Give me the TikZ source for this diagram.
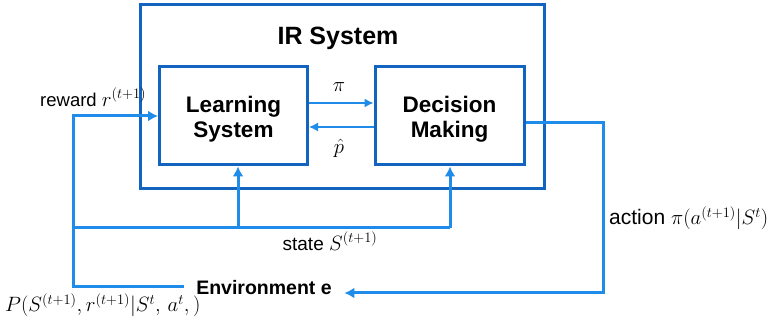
\documentclass[tikz,border=0pt]{standalone}
\usepackage{fontspec}
\setmainfont{Liberation Sans}
\usetikzlibrary{arrows.meta}
\definecolor{boxblue}{RGB}{18,100,190}
\definecolor{lineblue}{RGB}{30,140,232}
\newcommand{\fsz}[1]{\fontsize{#1}{#1}\selectfont}
\tikzset{
  sysbox/.style={draw=boxblue, line width=3pt, rectangle, inner sep=0pt},
  conn/.style={draw=lineblue, line width=3pt},
  connarrow/.style={conn, -{Latex[length=10pt,width=11pt]}},
  thinarrow/.style={draw=lineblue, line width=1.4pt, -{Latex[length=9pt,width=9pt]}},
  lbl/.style={inner sep=0pt},
  title/.style={font=\fontsize{22.5}{25}\bfseries\selectfont, align=center, inner sep=0pt}
}
\begin{document}
\begin{tikzpicture}[x=1pt,y=-1pt]
\useasboundingbox (0,0) rectangle (771,320);
% IR system frame and its title
\node[sysbox, minimum width=404pt, minimum height=184pt] (ir) at (342,97) {};
\node[font=\fontsize{25}{28}\bfseries\selectfont] (irt) at (338,38) {IR System};
% the two inner modules
\node[sysbox, minimum width=148pt, minimum height=98pt] (ls) at (233.5,116) {};
\node[sysbox, minimum width=149pt, minimum height=98pt] (dm) at (449.5,116) {};
\node[title] (lst) at ([yshift=-3pt]ls.center) {Learning\\System};
\node[title] (dmt) at ([yshift=-3pt]dm.center) {Decision\\Making};
% environment
\node[font=\fontsize{19.5}{22}\bfseries\selectfont, inner xsep=12.5pt, inner ysep=4pt] (env) at (264,288) {Environment e};
% routing coordinates
\coordinate (lx) at (73,0);
\coordinate (sy) at (0,228);
\coordinate (ax) at (603,0);
\coordinate (envin) at ([yshift=-5pt]env.east);
% policy and estimate arrows between the modules
\draw[thinarrow] ([yshift=13pt]ls.east) -- ([yshift=13pt]dm.west);
\draw[thinarrow] ([yshift=-11pt]dm.west) -- ([yshift=-11pt]ls.east);
\node[lbl, font=\fsz{21}] (pil) at (339,87) {$\pi$};
\node[lbl, font=\fsz{21}] (phl) at (339,148) {$\hat{p}$};
% reward loop from the environment into the learning system
\draw[connarrow] ([yshift=1pt]env.west) -| (lx |- ls.west) -- (ls.west);
% state branch feeding both modules
\draw[conn] (lx |- sy) -- ([xshift=0.5pt]dm.south |- sy);
\draw[connarrow] ([xshift=4.5pt]ls.south |- sy) -- ([xshift=4.5pt]ls.south);
\draw[connarrow] ([xshift=0.5pt]dm.south |- sy) -- ([xshift=0.5pt]dm.south);
% action back to the environment
\draw[connarrow] ([yshift=-7pt]dm.east) -| (ax |- envin) -- (envin);
% labels
\node[lbl, anchor=west] (rl) at (40,97) {\fsz{18.5}reward \fsz{21}$r^{(t+1)}$};
\node[lbl] (sl) at (330,241) {\fsz{19}state \fsz{20.5}$S^{(t+1)}$};
\node[lbl, anchor=west] (al) at (609,218) {\fsz{21}action $\pi(a^{(t+1)}|S^{t})$};
\node[lbl, anchor=west] (pl) at (5,305) {\fsz{19.5}$P(S^{(t+1)},r^{(t+1)}|S^{t},\,a^{t},)$};
\end{tikzpicture}
\end{document}
